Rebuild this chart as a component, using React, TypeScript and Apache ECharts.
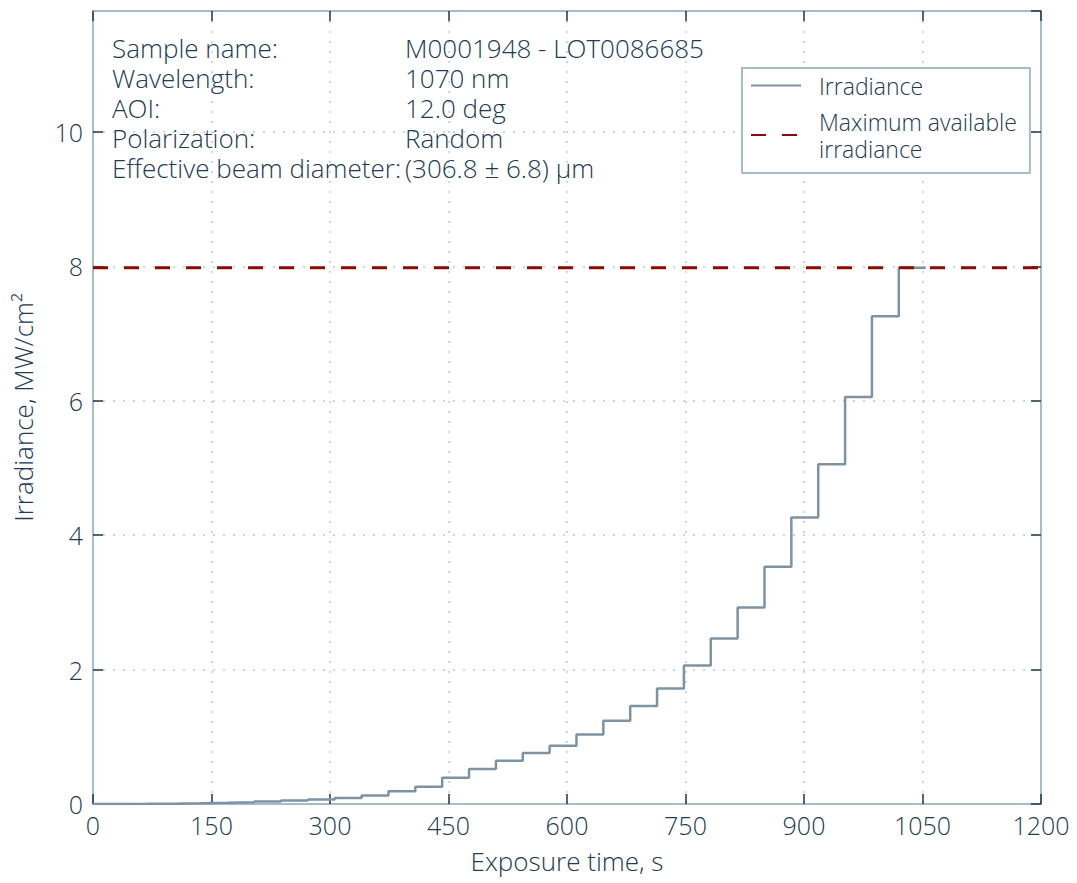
import React, { useEffect, useRef } from "react";
import * as echarts from "echarts";

const stepTimes = [
  0, 34, 68, 102, 136, 170, 204, 238, 272, 306, 340, 374, 408, 442, 476, 510,
  544, 578, 612, 646, 680, 714, 748, 782, 816, 850, 884, 918, 952, 986, 1020, 1054,
];
const irradiance = [
  0.0, 0.002, 0.005, 0.01, 0.018, 0.027, 0.038, 0.052, 0.068, 0.09, 0.125, 0.19,
  0.257, 0.39, 0.52, 0.645, 0.758, 0.866, 1.036, 1.239, 1.457, 1.72, 2.062, 2.464,
  2.925, 3.529, 4.263, 5.056, 6.057, 7.257, 7.98, 7.98,
];
const maxIrradiance = 7.98;
const maxLineX = [0, 1200];

const infoLabels = [
  "Sample name:",
  "Wavelength:",
  "AOI:",
  "Polarization:",
  "Effective beam diameter:",
];
const infoValues = [
  "M0001948 - LOT0086685",
  "1070 nm",
  "12.0 deg",
  "Random",
  "(306.8 ± 6.8) µm",
];

const FONT = "'Open Sans', 'Noto Sans', sans-serif";
const TEXT = "#213b53";
const FRAME = "#a6bccb";
const TICK = "#1e3448";
const GRIDC = "#c8d7e0";

const plainNum = (v: number) => String(v);

export default function App() {
  const ref = useRef<HTMLDivElement>(null);
  useEffect(() => {
    if (!ref.current) return;
    const chart = echarts.init(ref.current, undefined, { renderer: "svg" });
    const seriesData = stepTimes.map((t, i) => [t, irradiance[i]]);
    const maxData = maxLineX.map((x) => [x, maxIrradiance]);
    const axisLine = { show: true, onZero: false, lineStyle: { color: FRAME, width: 2 } };
    const axisTick = { show: true, inside: true, length: 10, lineStyle: { color: TICK, width: 1.5 } };
    const infoText = (text: string, x: number, i: number) => ({
      type: "text",
      x,
      y: 48 + 30 * i,
      z: 10,
      style: {
        text,
        fontFamily: FONT,
        fontWeight: 300,
        fontSize: 26,
        lineHeight: 28,
        fill: TEXT,
        verticalAlign: "middle",
        align: "left",
      },
    });
    chart.setOption({
      animation: false,
      textStyle: { fontFamily: FONT },
      grid: { left: 93, right: 36, top: 11, bottom: 79, containLabel: false },
      legend: {
        orient: "vertical",
        left: 742,
        top: 68,
        padding: [4, 13, 11, 8],
        itemGap: 9,
        itemWidth: 50,
        itemHeight: 14,
        borderColor: FRAME,
        borderWidth: 2,
        borderRadius: 0,
        backgroundColor: "#ffffff",
        itemStyle: { opacity: 0 },
        textStyle: {
          fontFamily: FONT,
          fontWeight: 300,
          fontSize: 23,
          lineHeight: 27,
          color: TEXT,
          padding: [0, 0, 0, 13],
        },
        data: ["Irradiance", "Maximum available\nirradiance"],
      },
      xAxis: [
        {
          type: "value",
          min: 0,
          max: 1200,
          interval: 150,
          position: "bottom",
          axisLine,
          axisTick,
          axisLabel: {
            color: TEXT,
            fontSize: 25,
            fontWeight: 300,
            fontFamily: FONT,
            margin: 8,
            formatter: plainNum,
          },
          splitLine: { show: true, lineStyle: { color: GRIDC, width: 2, type: [2, 8] } },
          name: "Exposure time, s",
          nameLocation: "middle",
          nameGap: 44,
          nameTextStyle: { color: TEXT, fontSize: 26, fontWeight: 300, fontFamily: FONT },
        },
        {
          type: "value",
          min: 0,
          max: 1200,
          interval: 150,
          position: "top",
          axisLine,
          axisTick,
          axisLabel: { show: false },
          splitLine: { show: false },
        },
      ],
      yAxis: [
        {
          type: "value",
          min: 0,
          max: 11.8,
          interval: 2,
          position: "left",
          axisLine,
          axisTick,
          axisLabel: {
            color: TEXT,
            fontSize: 25,
            fontWeight: 300,
            fontFamily: FONT,
            margin: 10,
            showMaxLabel: false,
            formatter: plainNum,
          },
          splitLine: { show: true, lineStyle: { color: GRIDC, width: 2, type: [2, 8] } },
          name: "Irradiance, MW/cm²",
          nameLocation: "middle",
          nameGap: 57,
          nameTextStyle: { color: TEXT, fontSize: 26, fontWeight: 300, fontFamily: FONT },
        },
        {
          type: "value",
          min: 0,
          max: 11.8,
          interval: 2,
          position: "right",
          axisLine,
          axisTick,
          axisLabel: { show: false },
          splitLine: { show: false },
        },
      ],
      graphic: [
        ...infoLabels.map((t, i) => infoText(t, 112, i)),
        ...infoValues.map((t, i) => infoText(t, 405, i)),
      ],
      series: [
        {
          name: "Irradiance",
          type: "line",
          step: "end",
          data: seriesData,
          showSymbol: false,
          symbol: "none",
          lineStyle: { color: "#7e93a2", width: 2.5 },
          itemStyle: { color: "#7e93a2" },
          xAxisIndex: 0,
          yAxisIndex: 0,
        },
        {
          name: "Maximum available\nirradiance",
          type: "line",
          data: maxData,
          showSymbol: false,
          symbol: "none",
          lineStyle: { color: "#8b0a02", width: 3, type: [15, 16] },
          itemStyle: { color: "#8b0a02" },
          xAxisIndex: 0,
          yAxisIndex: 0,
        },
      ],
    });
    return () => chart.dispose();
  }, []);
  return (
    <div
      ref={ref}
      style={{ position: "fixed", left: 0, top: 0, width: 1077, height: 883, background: "#fff" }}
    />
  );
}
